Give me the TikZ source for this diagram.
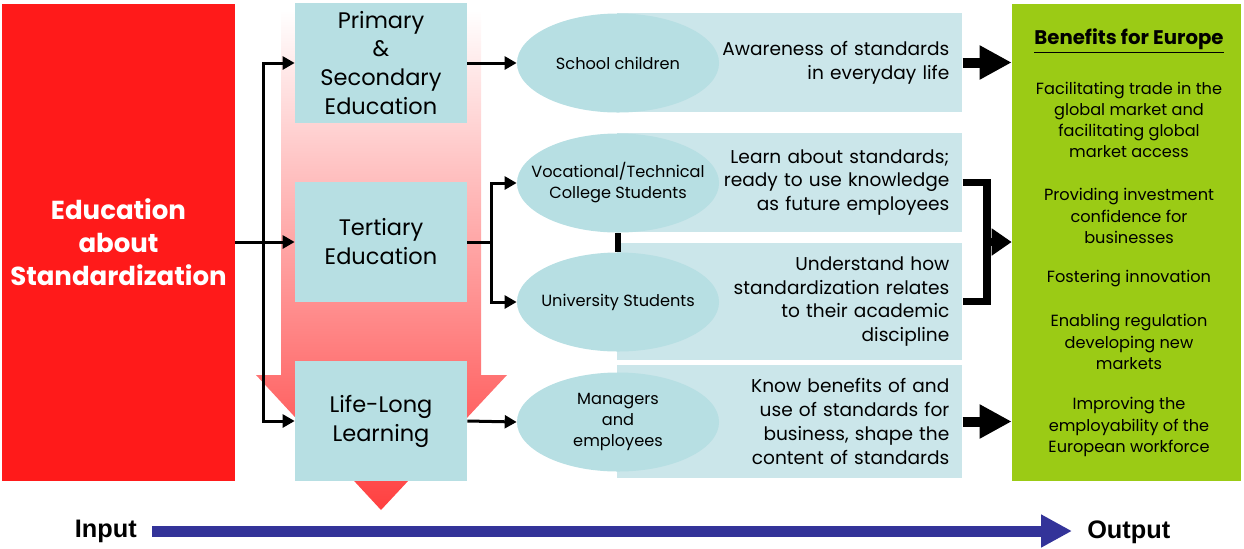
\documentclass[tikz,border=0pt]{standalone}
\usepackage{fontspec}
\setmainfont{Poppins}
\setsansfont{Liberation Sans}
\usetikzlibrary{arrows.meta}
\usetikzlibrary{shapes.geometric}

\definecolor{edured}{HTML}{FF1A1A}
\definecolor{boxblue}{HTML}{B7DFE3}
\definecolor{rowblue}{HTML}{CBE6EA}
\definecolor{eugreen}{HTML}{9BCB15}
\definecolor{flowblue}{HTML}{333399}
\definecolor{funnelred}{HTML}{FF4040}
\definecolor{funnelpink}{HTML}{FFD2D2}

\tikzset{
  edubox/.style={rectangle,fill=edured,minimum width=5.825cm,minimum height=11.925cm,align=center,text=white,font=\bfseries\fontsize{18.5}{23.5}\selectfont,inner sep=0pt},
  stage/.style={rectangle,fill=boxblue,minimum width=4.3cm,minimum height=2.975cm,align=center,font=\fontsize{16}{20.6}\selectfont,inner sep=0pt},
  learner/.style={ellipse,fill=boxblue,minimum width=5.05cm,minimum height=2.475cm,inner sep=0pt},
  learnertext/.style={align=center,font=\fontsize{11.5}{15}\selectfont,inner sep=0pt},
  outcome/.style={rectangle,fill=rowblue,minimum width=8.625cm,minimum height=2.475cm,text width=7.975cm,align=right,inner sep=0.325cm,font=\fontsize{13.2}{17}\selectfont},
  eubox/.style={rectangle,fill=eugreen,minimum width=5.725cm,minimum height=11.925cm,inner sep=0pt},
  eutitle/.style={align=center,font=\bfseries\fontsize{14}{17}\selectfont,inner sep=0pt},
  eutext/.style={align=center,font=\fontsize{11.5}{15}\selectfont,inner sep=0pt},
  endlabel/.style={font=\sffamily\bfseries\fontsize{18}{20}\selectfont,inner sep=0.375cm},
  flow/.style={line width=0.075cm,-{Triangle[length=0.3cm,width=0.32cm]}},
  link/.style={line width=0.075cm},
  bigarrow/.style={line width=0.25cm,-{Triangle[length=0.8cm,width=0.8cm]}},
  bracket/.style={line width=0.18cm,line join=miter},
  timeline/.style={flowblue,line width=0.275cm,-{Triangle[length=0.775cm,width=0.775cm]}}
}

\begin{document}
\begin{tikzpicture}[x=0.025cm,y=-0.025cm]
\useasboundingbox (0,0) rectangle (1244,548);

\shade[top color=white,middle color=funnelpink,bottom color=funnelred] (281,10) -- (481,10) -- (481,375) -- (507,375) -- (381,510) -- (256,375) -- (281,375) -- cycle;

\node[edubox] (edu) at (118.5,242.5) {Education\\about\\Standardization};

\node[stage] (prim) at (381,63) {Primary\\\&\\Secondary\\Education};
\node[stage] (tert) at (381,242) {Tertiary\\Education};
\node[stage] (life) at (381,421) {Life-Long\\Learning};

\node[outcome,anchor=west] (schrow) at (617,62.5) {Awareness of standards\\in everyday life};
\node[outcome,anchor=west] (vocrow) at (617,182.5) {Learn about standards;\\ready to use knowledge\\as future employees};
\node[outcome,anchor=west] (unirow) at (617,301.5) {Understand how\\standardization relates\\to their academic\\discipline};
\node[outcome,anchor=west] (mgrrow) at (617,421.5) {Know benefits of and\\use of standards for\\business, shape the\\content of standards};

\node[learner] (school) at (618,63) {};
\node[learnertext] (schooltxt) at (school) {School children};
\node[learner] (voc) at (618,183) {};
\node[learnertext] (voctxt) at (voc) {Vocational/Technical\\College Students};
\node[learner] (uni) at (618,302) {};
\node[learnertext] (unitxt) at (uni) {University Students};
\node[learner] (mgr) at (618,422) {};
\node[learnertext] (mgrtxt) at (mgr) {Managers\\and\\employees};

\node[eubox] (eu) at (1126.5,242.5) {};
\node[eutitle] (eutop) at (1129,41) {\underline{Benefits for Europe}};
\node[eutext] (ben1) at (1129,120) {Facilitating trade in the\\global market and\\facilitating global\\market access};
\node[eutext] (ben2) at (1129,216) {Providing investment\\confidence for\\businesses};
\node[eutext] (ben3) at (1129,279) {Fostering innovation};
\node[eutext] (ben4) at (1129,342) {Enabling regulation\\developing new\\markets};
\node[eutext] (ben5) at (1129,427) {Improving the\\employability of the\\European workforce};

\coordinate (lsplit) at (263,242);
\coordinate (rsplit) at (491,242);
\coordinate (rbrk) at (987,242);

\draw[link] (edu.east |- lsplit) -- (lsplit);
\draw[flow] (lsplit) -- (tert.west);
\draw[flow] (lsplit) |- (prim.west);
\draw[flow] (lsplit) |- (life.west);

\draw[flow] (prim.east) -- (school.west);
\draw[link] (tert.east) -- (rsplit);
\draw[flow] (rsplit) |- (voc.west);
\draw[flow] (rsplit) |- (uni.west);
\draw[flow] (life.east) -- (mgr.west);
\draw[line width=0.13cm] (voc.south) -- (uni.north);

\draw[bigarrow] (schrow.east) -- (schrow.east -| eu.west);
\draw[bigarrow] (mgrrow.east) -- (mgrrow.east -| eu.west);
\draw[bracket] (vocrow.east) -| (rbrk) |- (unirow.east);
\draw[line width=0.18cm,-{Triangle[length=0.5cm,width=0.65cm]}] (rbrk) -- (rbrk -| eu.west);

\node[endlabel,anchor=east] (inp) at (152,531) {Input};
\node[endlabel,anchor=west] (outp) at (1072,532) {Output};
\draw[timeline] (inp.east) -- (inp.east -| outp.west);
\end{tikzpicture}
\end{document}
